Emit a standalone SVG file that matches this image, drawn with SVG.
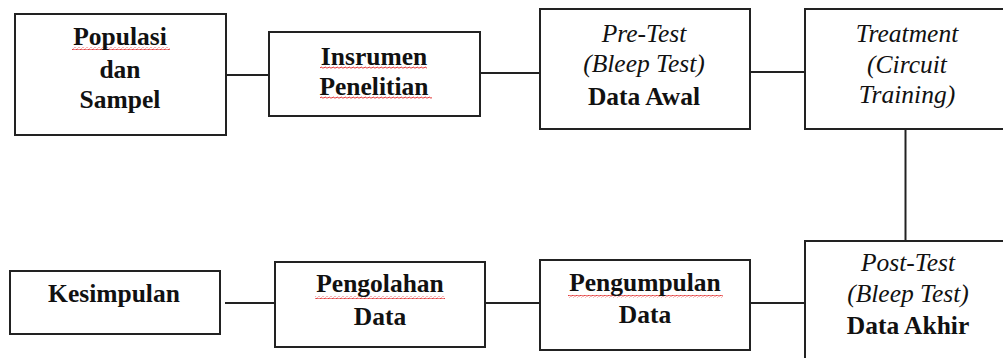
<svg xmlns="http://www.w3.org/2000/svg" width="1003" height="358" viewBox="0 0 1003 358">
<style>
.box{fill:#fff;stroke:#222;stroke-width:2}
.ln{stroke:#222;stroke-width:2;fill:none}
.sq{fill:url(#squig)}
</style>
<defs>
<pattern id="squig" x="0" y="0" width="4" height="3" patternUnits="userSpaceOnUse">
<path d="M0,2.2 Q1,0 2,1.5 T4,1.5" fill="none" stroke="#e02020" stroke-width="0.9"/>
</pattern>
</defs>
<rect width="1003" height="358" fill="#fff"/>
<g id="connectors">
<line class="ln" x1="226" y1="75" x2="269" y2="75"/>
<line class="ln" x1="480" y1="73" x2="540" y2="73"/>
<line class="ln" x1="750" y1="72" x2="805" y2="72"/>
<line class="ln" x1="905.5" y1="129" x2="905.5" y2="241"/>
<line class="ln" x1="225" y1="303" x2="275" y2="303"/>
<line class="ln" x1="485" y1="303" x2="540" y2="303"/>
<line class="ln" x1="750" y1="303" x2="805" y2="303"/>
</g>
<g font-family="Liberation Serif, Times New Roman, serif" font-size="25.5" fill="#111" text-anchor="middle">
<g id="populasi">
<rect class="box" x="15" y="14" width="211" height="121"/>
<rect class="sq" x="72" y="47" width="98" height="3"/>
<text font-weight="bold" x="120" y="45">Populasi</text>
<text font-weight="bold" x="120" y="78">dan</text>
<text font-weight="bold" x="120" y="108">Sampel</text>
</g>
<g id="instrumen">
<rect class="box" x="269" y="32" width="211" height="84"/>
<rect class="sq" x="320" y="66" width="107" height="3"/>
<rect class="sq" x="320" y="96" width="112" height="3"/>
<text font-weight="bold" x="374" y="65">Insrumen</text>
<text font-weight="bold" x="374" y="95">Penelitian</text>
</g>
<g id="pretest">
<rect class="box" x="540" y="9" width="210" height="120"/>
<text font-style="italic" x="644" y="42">Pre-Test</text>
<text font-style="italic" x="644" y="72">(Bleep Test)</text>
<text font-weight="bold" x="644" y="105">Data Awal</text>
</g>
<g id="treatment">
<rect class="box" x="805" y="9" width="205" height="120"/>
<text font-style="italic" x="907" y="42">Treatment</text>
<text font-style="italic" x="907" y="73">(Circuit</text>
<text font-style="italic" x="907" y="103">Training)</text>
</g>
<g id="posttest">
<rect class="box" x="805" y="241" width="205" height="130"/>
<text font-style="italic" x="908" y="271">Post-Test</text>
<text font-style="italic" x="908" y="302">(Bleep Test)</text>
<text font-weight="bold" x="908" y="334">Data Akhir</text>
</g>
<g id="pengumpulan">
<rect class="box" x="540" y="260" width="210" height="90"/>
<rect class="sq" x="568" y="295" width="155" height="3"/>
<text font-weight="bold" x="645" y="291">Pengumpulan</text>
<text font-weight="bold" x="645" y="323">Data</text>
</g>
<g id="pengolahan">
<rect class="box" x="275" y="262" width="210" height="85"/>
<rect class="sq" x="315" y="296" width="130" height="3"/>
<text font-weight="bold" x="380" y="292">Pengolahan</text>
<text font-weight="bold" x="380" y="325">Data</text>
</g>
<g id="kesimpulan">
<rect class="box" x="10" y="271" width="210" height="63"/>
<text font-weight="bold" x="114" y="302">Kesimpulan</text>
</g>
</g>
</svg>
